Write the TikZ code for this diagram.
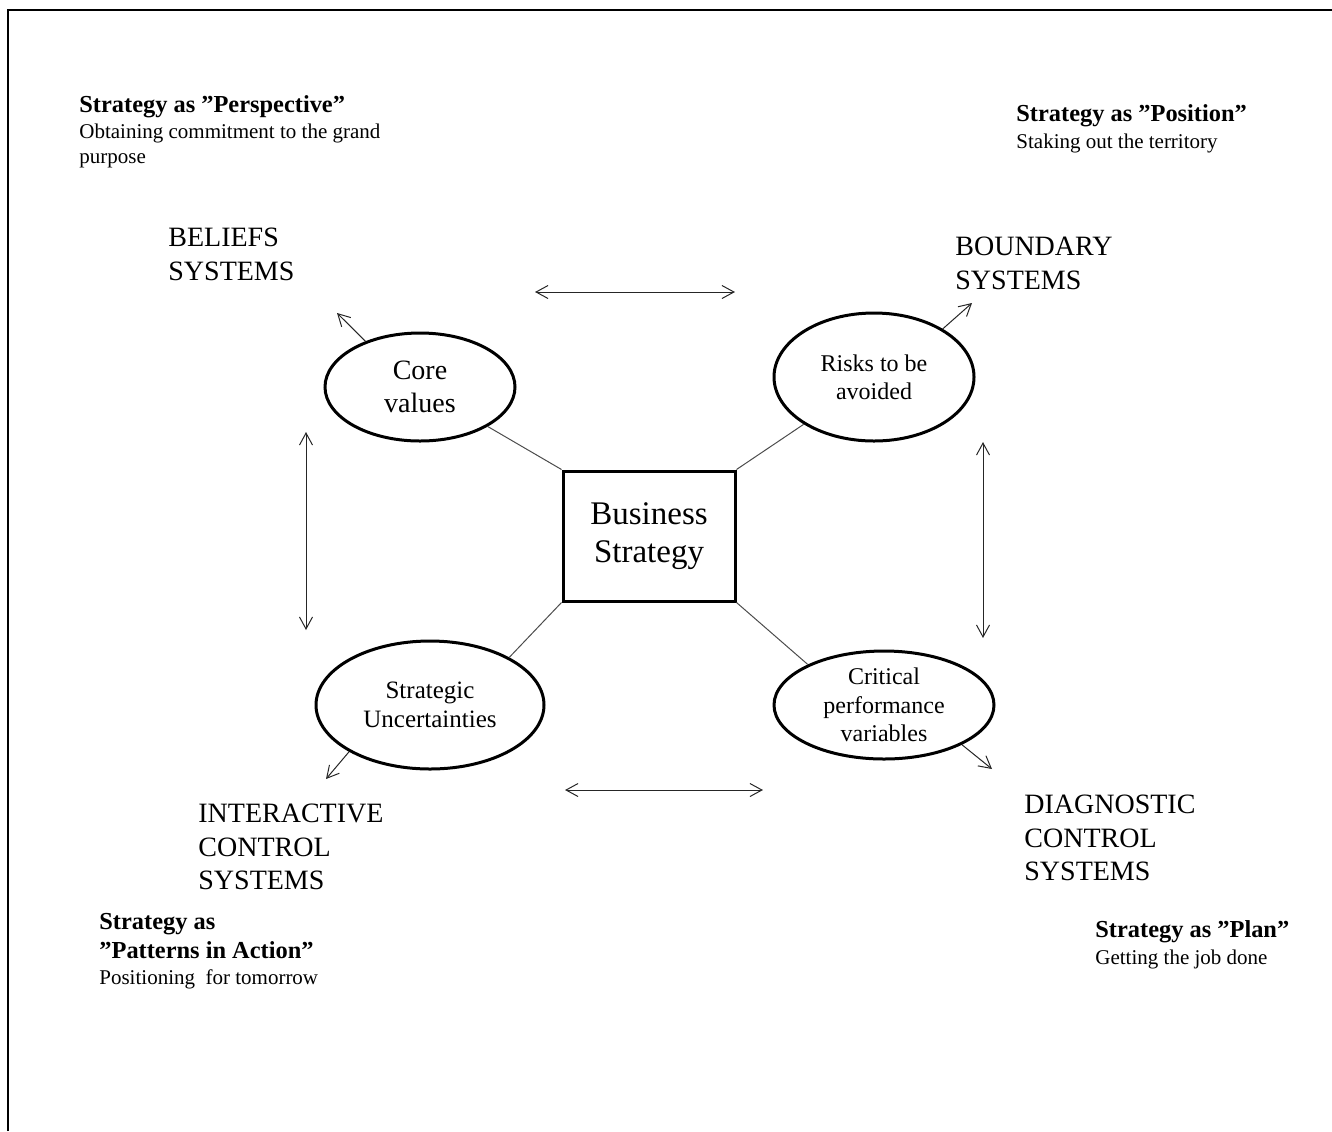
\documentclass[tikz,border=0pt]{standalone}
\usepackage{fontspec}
\setmainfont{Liberation Serif}
\usepackage{tikz}
\usetikzlibrary{arrows.meta, shapes.geometric}

\tikzset{
    hub/.style={draw, rectangle, line width=1.5pt, minimum width=86pt, minimum height=65pt, inner sep=0pt, align=center, font=\fontsize{16.5}{19}\selectfont},
    lever/.style={draw, ellipse, line width=1.5pt, inner sep=0pt, align=center, font=\fontsize{12}{14.2}\selectfont},
    tie/.style={draw=black!70, line width=0.5pt},
    pull/.style={->, draw=black!85, line width=0.5pt},
    swap/.style={<->, draw=black!85, line width=0.5pt},
    sysname/.style={anchor=north west, inner sep=0pt, align=left, font=\fontsize{14}{16.7}\selectfont},
    stitle/.style={anchor=base west, inner sep=0pt, align=left, font=\bfseries\fontsize{12.2}{14.5}\selectfont},
    ssub/.style={anchor=base west, inner sep=0pt, align=left, font=\fontsize{10.5}{12.5}\selectfont}
}

\begin{document}
\begin{tikzpicture}[x=0.5pt, y=-0.5pt, >={Straight Barb[length=6pt,width=6.5pt]}]
        \useasboundingbox (0,0) rectangle (1332,1131);
        \draw[line width=1.2pt] (8,1131) -- (8,10) -- (1332,10);

        \node[hub] (bs) at (649,536) {Business\\Strategy};
        \node[lever, minimum width=95pt, minimum height=54pt, font=\fontsize{14}{16.5}\selectfont] (cv) at (420,387) {Core\\values};
        \node[lever, minimum width=100pt, minimum height=64pt] (ra) at (874,377) {Risks to be\\avoided};
        \node[lever, minimum width=114pt, minimum height=64pt, font=\fontsize{12.5}{14.5}\selectfont] (su) at (430,705) {Strategic\\Uncertainties};
        \node[lever, minimum width=110pt, minimum height=54pt] (cp) at (884,705) {Critical\\performance\\variables};

        \draw[tie] (bs.north west) -- (cv);
        \draw[tie] (bs.north east) -- (ra);
        \draw[tie] (bs.south west) -- (su.31);
        \draw[tie] (bs.south east) -- (cp.152);

        \coordinate (bel) at (337,313);
        \coordinate (bou) at (972,303);
        \coordinate (int) at (326,779);
        \coordinate (dia) at (992,769);
        \draw[pull] (cv.140) -- (bel);
        \draw[pull] (ra.35) -- (bou);
        \draw[pull] (su.210) -- (int);
        \draw[pull] (cp.-27) -- (dia);

        \coordinate (topl) at (535,292);
        \coordinate (topr) at (735,292);
        \coordinate (botl) at (565,790);
        \coordinate (botr) at (763,790);
        \coordinate (lftt) at (306,432);
        \coordinate (lftb) at (306,630);
        \coordinate (rgtt) at (983,442);
        \coordinate (rgtb) at (983,638);
        \draw[swap] (topl) -- (topr);
        \draw[swap] (botl) -- (botr);
        \draw[swap] (lftt) -- (lftb);
        \draw[swap] (rgtt) -- (rgtb);

        \node[sysname] (beliefs) at (168,228) {BELIEFS\\SYSTEMS};
        \node[sysname] (boundary) at (955,237) {BOUNDARY\\SYSTEMS};
        \node[sysname] (interactive) at (198,804) {INTERACTIVE\\CONTROL\\SYSTEMS};
        \node[sysname] (diagnostic) at (1024,795) {DIAGNOSTIC\\CONTROL\\SYSTEMS};

        \node[stitle] (persp) at (79,112) {Strategy as ”Perspective”};
        \node[ssub, anchor=north west] (perspsub) at (79,124) {Obtaining commitment to the grand\\purpose};
        \node[stitle] (posit) at (1016,121) {Strategy as ”Position”};
        \node[ssub] (positsub) at (1016,148) {Staking out the territory};
        \node[stitle, anchor=north west] (pattern) at (99,913) {Strategy as\\”Patterns in Action”};
        \node[ssub] (patternsub) at (99,984) {Positioning~ for tomorrow};
        \node[stitle] (plan) at (1095,937) {Strategy as ”Plan”};
        \node[ssub] (plansub) at (1095,964) {Getting the job done};
\end{tikzpicture}
\end{document}
